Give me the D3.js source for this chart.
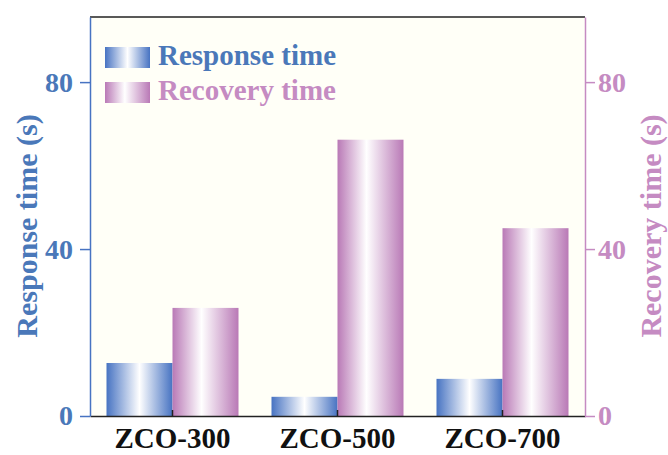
<!DOCTYPE html>
<html><head><meta charset="utf-8">
<script src="https://cdn.jsdelivr.net/npm/d3@7"></script>
<style>body{margin:0;background:#fff}svg{display:block}text{font-family:"Liberation Serif","Times New Roman",serif;font-weight:bold}</style>
</head><body>
<svg id="c" width="668" height="455"></svg>
<script>
const categories = ["ZCO-300", "ZCO-500", "ZCO-700"];
const responseTime = [12.7, 4.6, 8.9];
const recoveryTime = [25.9, 66.2, 45.0];
const yTicks = [0, 40, 80];
const seriesNames = ["Response time", "Recovery time"];

const W = 668, H = 455;
const m = {l: 90, r: 83, t: 17, b: 39};
const svg = d3.select("#c");
const blue = "#4773c2", pink = "#b979b6";
const blueT = "#4a78b9", pinkT = "#c58bc2";

const defs = svg.append("defs");
function grad(id, c, mid) {
  const g = defs.append("linearGradient").attr("id", id).attr("x1", "0%").attr("x2", "100%").attr("y1", "0%").attr("y2", "0%");
  g.append("stop").attr("offset", "0%").attr("stop-color", c);
  g.append("stop").attr("offset", mid).attr("stop-color", "#ffffff");
  g.append("stop").attr("offset", "100%").attr("stop-color", c);
}
grad("gb", blue, "50%"); grad("gp", pink, "44%");

const x = d3.scaleBand().domain(categories).range([m.l, W - m.r]).paddingInner(0.2).paddingOuter(0.1);
const y = d3.scaleLinear().domain([0, 95.6]).range([H - m.b, m.t]);

svg.append("rect").attr("x", m.l).attr("y", m.t).attr("width", W - m.r - m.l).attr("height", H - m.b - m.t).attr("fill", "#fffff7");

const bw = x.bandwidth() / 2;
const groups = [[responseTime, "url(#gb)", 0], [recoveryTime, "url(#gp)", 1]];
groups.forEach(([vals, fill, k]) => {
  svg.append("g").selectAll("rect").data(vals).join("rect")
    .attr("x", (d, i) => x(categories[i]) + k * bw)
    .attr("y", d => y(d)).attr("width", bw).attr("height", d => y(0) - y(d))
    .attr("fill", fill);
});

// axes
const gx = svg.append("g").attr("transform", `translate(0,${H - m.b})`)
  .call(d3.axisBottom(x).tickSize(6).tickSizeOuter(0));
gx.select(".domain").attr("stroke", "#222").attr("stroke-width", 1.5);
gx.selectAll(".tick line").attr("stroke", "#222").attr("stroke-width", 1.5).attr("y1", -6).attr("y2", 0);
gx.selectAll(".tick text").attr("font-size", 29).attr("fill", "#111").attr("dy", null).attr("y", 32);

svg.append("line").attr("x1", m.l).attr("x2", W - m.r).attr("y1", m.t).attr("y2", m.t).attr("stroke", "#222").attr("stroke-width", 1.5);

const gl = svg.append("g").attr("transform", `translate(${m.l},0)`)
  .call(d3.axisLeft(y).tickValues(yTicks).tickSize(10).tickSizeOuter(0));
gl.select(".domain").attr("stroke", blue).attr("stroke-width", 1.5);
gl.selectAll(".tick line").attr("stroke", blue).attr("stroke-width", 1.5);
gl.selectAll(".tick text").attr("font-size", 28).attr("fill", blueT).attr("x", -17);

const gr = svg.append("g").attr("transform", `translate(${W - m.r},0)`)
  .call(d3.axisRight(y).tickValues(yTicks).tickSize(10).tickSizeOuter(0));
gr.select(".domain").attr("stroke", pinkT).attr("stroke-width", 1.5);
gr.selectAll(".tick line").attr("stroke", pinkT).attr("stroke-width", 1.5);
gr.selectAll(".tick text").attr("font-size", 28).attr("fill", pinkT).attr("x", 13);

const cy = 226;
svg.append("text").attr("transform", `translate(37,${cy}) rotate(-90)`).attr("text-anchor", "middle")
  .attr("font-size", 30).attr("fill", blueT).text("Response time (s)");
svg.append("text").attr("transform", `translate(661,${cy}) rotate(-90)`).attr("text-anchor", "middle")
  .attr("font-size", 30).attr("fill", pinkT).text("Recovery time (s)");

// legend
const leg = [["url(#gb)", blueT], ["url(#gp)", pinkT]];
seriesNames.forEach((n, i) => {
  const ly = 47 + i * 35;
  svg.append("rect").attr("x", 105).attr("y", ly).attr("width", 45).attr("height", 21).attr("fill", leg[i][0]);
  svg.append("text").attr("x", 158).attr("y", ly + 18).attr("font-size", 29).attr("fill", leg[i][1]).text(n);
});
</script>
</body></html>
